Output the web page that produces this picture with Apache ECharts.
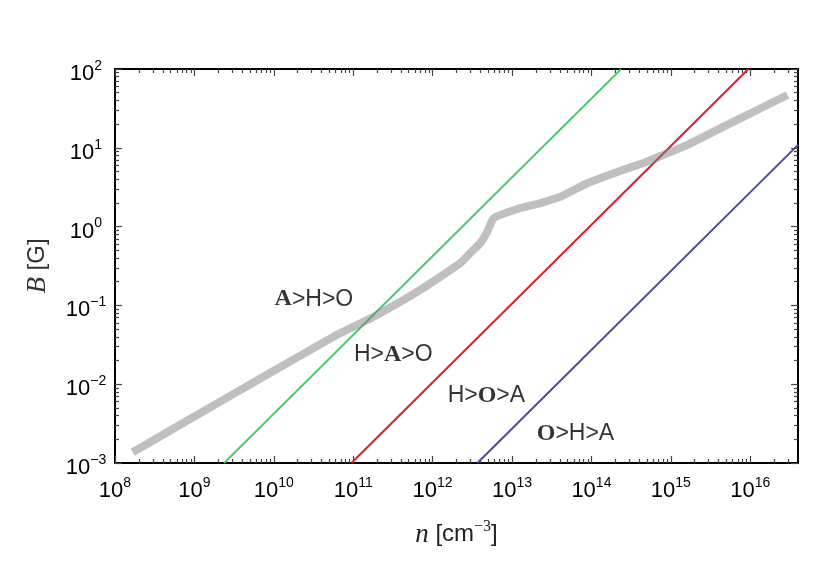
<!DOCTYPE html>
<html>
<head>
<meta charset="utf-8">
<script src="https://cdn.jsdelivr.net/npm/echarts@6/dist/echarts.min.js"></script>
<style>html,body{margin:0;padding:0;background:#fff}#c{width:823px;height:571px}</style>
</head>
<body>
<div id="c"></div>
<script>
// ---- data ----
var xMin = 1e8, xMax = 4e16, yMin = 1e-3, yMax = 1e2;
var xMajor = [1e8, 1e9, 1e10, 1e11, 1e12, 1e13, 1e14, 1e15, 1e16];
var yMajor = [1e-3, 1e-2, 1e-1, 1e0, 1e1, 1e2];
var minorMult = [2, 3, 4, 5, 6, 7, 8, 9];

var grayN = [1.67e8, 1e9, 1e10, 5.66e10, 1.81e11, 7.01e11, 2.24e12, 3.16e12, 4.0e12, 4.9e12, 5.89e12, 1.28e13, 2.29e13, 4.09e13, 8.87e13, 2.34e14, 4.55e14, 7.46e14, 1.62e15, 4.25e15, 1.11e16, 2.95e16];
var grayB = [1.37e-3, 3.89e-3, 1.48e-2, 4.01e-2, 7.19e-2, 0.157, 0.345, 0.49, 0.619, 0.871, 1.28, 1.72, 1.99, 2.40, 3.55, 5.13, 6.41, 7.87, 10.9, 17.8, 28.7, 46.8];

var greenN = [2.37e9, 2.37e14];
var greenB = [1e-3, 1e2];
var redN = [9.5e10, 9.5e15];
var redB = [1e-3, 1e2];
var blueN = [3.67e12, 4e16];
var blueB = [1e-3, 10.9];

var regionLabels = [
  { n: 3.2e10, b: 0.12, bold: 'A', pre: '', post: '>H>O' },
  { n: 3.2e11, b: 0.0234, bold: 'A', pre: 'H>', post: '>O' },
  { n: 4.76e12, b: 7.1e-3, bold: 'O', pre: 'H>', post: '>A' },
  { n: 6.3e13, b: 2.33e-3, bold: 'O', pre: '', post: '>H>A' }
];

// ---- helpers ----
function zip(a, b) { return a.map(function (v, i) { return [v, b[i]]; }); }
function minors(majors, lo, hi) {
  var out = [];
  majors.forEach(function (m) {
    minorMult.forEach(function (k) { var v = m * k; if (v > lo && v < hi) out.push(v); });
  });
  return out;
}
var xMinor = minors(xMajor, xMin, xMax);
var yMinor = minors(yMajor, yMin, yMax);

function expLabel(v) {
  var e = Math.round(Math.log10(v));
  var s = e < 0 ? '\u2212' + (-e) : String(e);
  return '{b|10}{s|' + s + '}';
}
var SANS = 'Liberation Sans, Arial, sans-serif';
var SERIF = 'Liberation Serif, Times New Roman, serif';
var labelRich = {
  b: { fontSize: 22, fontFamily: SANS, color: '#000', padding: [10, 0, 0, 0] },
  s: { fontSize: 14, fontFamily: SANS, color: '#000', padding: [0, 0, 6, 0] }
};

function baseAxis(pos, mn, mx, extra) {
  var o = {
    type: 'log', logBase: 10, min: mn, max: mx, position: pos,
    splitLine: { show: false },
    axisLine: { show: true, lineStyle: { color: '#000', width: 2 } },
    axisTick: { show: true, inside: true, length: 7, lineStyle: { color: '#444', width: 1.2 } },
    axisLabel: { show: false }
  };
  for (var k in extra) o[k] = extra[k];
  return o;
}
function ticks(vals, len) {
  return { show: true, inside: true, length: len, customValues: vals, lineStyle: { color: '#444', width: 1.2 } };
}

var xAxes = [
  baseAxis('bottom', xMin, xMax, {
    axisTick: ticks(xMajor, 7),
    axisLabel: { show: true, customValues: xMajor, formatter: expLabel, rich: labelRich, margin: 7 },
    name: '{i|n}{t| [cm}{s|\u22123}{t|]}',
    nameLocation: 'middle', nameGap: 50,
    nameTextStyle: { rich: {
      i: { fontSize: 27, fontFamily: SERIF, fontStyle: 'italic', color: '#222', padding: [8, 0, 0, 0] },
      t: { fontSize: 24, fontFamily: SANS, color: '#222', padding: [8, 0, 0, 0] },
      s: { fontSize: 16, fontFamily: SERIF, color: '#222', padding: [0, 0, 8, 0] }
    } }
  }),
  baseAxis('top', xMin, xMax, { axisTick: ticks(xMajor, 7) }),
  baseAxis('bottom', xMin, xMax, { axisLine: { show: false }, axisTick: ticks(xMinor, 4) }),
  baseAxis('top', xMin, xMax, { axisLine: { show: false }, axisTick: ticks(xMinor, 4) })
];
var yAxes = [
  baseAxis('left', yMin, yMax, {
    axisTick: ticks(yMajor, 7),
    axisLabel: { show: true, customValues: yMajor, formatter: expLabel, rich: labelRich, margin: 29, align: 'center' },
    name: '{i|B}{t| [G]}',
    nameLocation: 'middle', nameGap: 64, nameRotate: 90,
    nameTextStyle: { rich: {
      i: { fontSize: 27, fontFamily: SERIF, fontStyle: 'italic', color: '#333' },
      t: { fontSize: 24, fontFamily: SANS, color: '#333' }
    } }
  }),
  baseAxis('right', yMin, yMax, { axisTick: ticks(yMajor, 7) }),
  baseAxis('left', yMin, yMax, { axisLine: { show: false }, axisTick: ticks(yMinor, 4) }),
  baseAxis('right', yMin, yMax, { axisLine: { show: false }, axisTick: ticks(yMinor, 4) })
];

var textRich = {
  bb: { fontSize: 24, fontFamily: SERIF, fontWeight: 'bold', color: '#000' },
  n: { fontSize: 23, fontFamily: SANS, color: '#000' }
};

var option = {
  animation: false,
  backgroundColor: '#fff',
  grid: { left: 115, right: 25, top: 69, bottom: 108, containLabel: false },
  xAxis: xAxes,
  yAxis: yAxes,
  series: [
    { type: 'line', data: zip(greenN, greenB), showSymbol: false, symbol: 'none',
      lineStyle: { color: '#48c76e', width: 1.8 }, z: 2 },
    { type: 'line', data: zip(redN, redB), showSymbol: false, symbol: 'none',
      lineStyle: { color: '#dc1f2f', width: 2 }, z: 2 },
    { type: 'line', data: zip(blueN, blueB), showSymbol: false, symbol: 'none',
      lineStyle: { color: '#4c4a9c', width: 2 }, z: 2 },
    { type: 'line', data: zip(grayN, grayB), showSymbol: false, symbol: 'none', smooth: 0.15,
      lineStyle: { color: 'rgb(128,128,128)', width: 8, opacity: 0.5, cap: 'butt', join: 'round' }, z: 3 },
    { type: 'scatter', symbolSize: 0, z: 4,
      data: regionLabels.map(function (r) {
        return {
          value: [r.n, r.b],
          label: { show: true, position: 'inside', color: '#000',
            formatter: (r.pre ? '{n|' + r.pre + '}' : '') + '{bb|' + r.bold + '}{n|' + r.post + '}',
            rich: textRich }
        };
      })
    }
  ]
};
var chart = echarts.init(document.getElementById('c'), null, { renderer: 'canvas' });
chart.setOption(option);
</script>
</body>
</html>
